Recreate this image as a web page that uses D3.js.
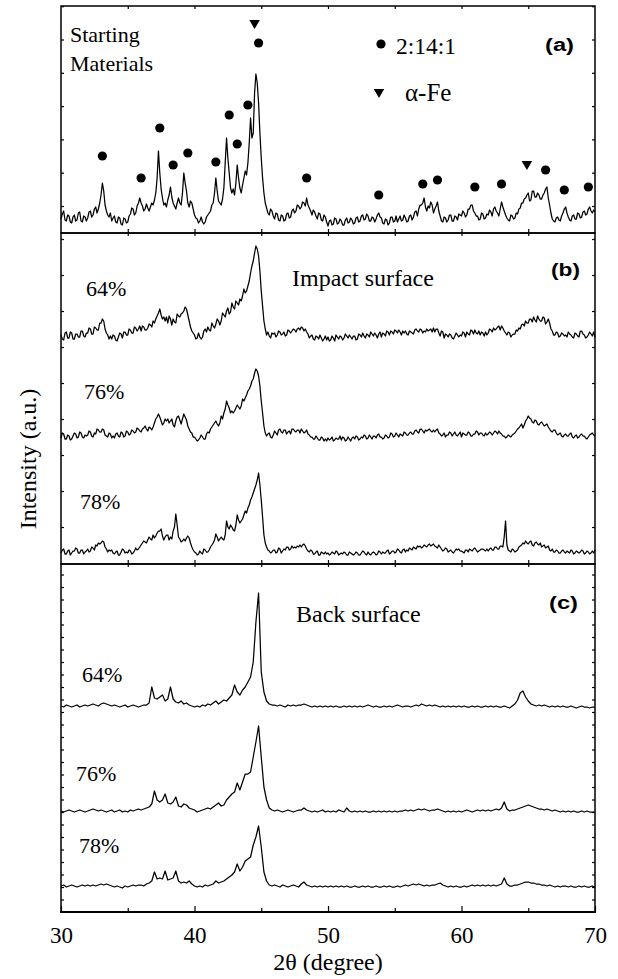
<!DOCTYPE html>
<html>
<head>
<meta charset="utf-8">
<script src="https://cdn.jsdelivr.net/npm/d3@7/dist/d3.min.js"></script>
<style>
    body { margin: 0; background: #fff; }
    .domain { display: none; }
    .tick line { stroke: #000; stroke-width: 1.2; }
    .frame { fill: none; stroke: #000; stroke-width: 1.5; }
    .trace { fill: none; stroke: #000; stroke-width: 1.25; stroke-linejoin: round; }
</style>
</head>
<body>
<div id="chart"></div>
<script>

// scans in (a) and (b) are read every 0.1 deg, the smoother ones in (c) every 0.2 deg
var twoThetaFine = d3.range(401).map(function (i) { return 30 + i * 0.1; });
var twoThetaCoarse = d3.range(201).map(function (i) { return 30 + i * 0.2; });

// (a) starting materials, one row = 2 degrees
var startMat = [
    14,19,22,13,12,18,17,11,10,16,18,12,13,20,21,12,11,17,16,12,
    15,21,22,16,18,24,26,20,24,30,38,50,42,28,22,18,16,20,12,15,
    17,11,10,16,15,9,8,15,14,10,11,17,19,25,24,18,20,27,30,35,
    30,27,22,24,29,25,22,26,30,28,33,40,55,82,60,44,35,28,30,26,
    33,38,46,36,30,27,24,30,35,30,28,40,60,50,42,30,26,32,30,24,
    18,15,14,10,12,16,11,9,11,16,18,20,22,28,30,40,55,42,32,30,
    28,34,45,70,95,75,60,45,40,44,38,50,68,55,45,40,48,55,62,58,
    70,90,115,95,100,140,159,150,130,100,75,55,40,30,25,20,18,24,22,17,
    14,20,19,13,12,18,17,12,13,19,20,15,16,22,24,20,22,28,27,24,
    26,31,30,27,35,28,25,22,18,23,21,17,14,20,19,13,12,18,16,11,
    7,12,13,8,9,15,14,9,10,14,12,8,8,13,15,10,11,15,13,9,
    10,15,16,11,12,17,18,13,14,19,17,12,12,16,15,11,14,18,20,16,
    15,10,9,14,13,8,10,16,16,11,12,17,11,14,17,12,13,18,15,11,
    12,17,18,13,16,21,22,17,24,28,28,30,35,26,22,27,25,31,28,20,
    24,27,31,22,17,12,11,16,15,11,13,18,18,12,12,17,16,13,19,18,
    17,22,20,16,18,24,24,28,28,22,20,17,17,13,14,20,19,14,15,19,
    18,23,21,17,24,26,22,20,17,24,31,26,22,18,15,13,12,18,17,14,
    15,20,19,24,25,30,30,34,35,38,40,32,33,42,42,36,36,40,38,34,
    34,38,40,44,46,35,28,20,14,12,11,15,16,13,12,17,20,24,26,20,
    16,13,12,17,18,14,14,20,19,15,16,21,22,18,19,24,26,22,20,23,
    21];

// (b) impact surface, 64 / 76 / 78 %
var impact64 = [
    6,2,1,8,9,3,3,9,8,2,2,7,7,4,4,10,10,5,4,8,
    8,13,12,7,7,14,13,11,11,18,18,22,20,12,8,6,2,5,2,6,
    5,1,0,4,8,7,3,9,9,6,6,12,11,8,8,14,13,10,12,15,
    10,15,14,11,11,13,17,16,14,20,18,22,25,28,32,26,22,24,20,24,
    18,25,22,16,22,19,18,27,25,24,27,28,30,34,32,26,20,14,10,8,
    6,2,3,8,4,2,4,10,12,9,14,11,10,18,15,13,17,22,20,16,
    20,28,26,24,30,33,27,29,38,34,32,40,38,36,42,40,45,52,48,50,
    55,60,68,75,80,88,95,92,85,70,50,35,20,12,6,9,5,3,8,7,
    8,4,6,10,9,6,7,9,5,6,11,10,8,10,12,11,9,12,13,11,
    14,13,10,12,9,7,3,5,6,2,1,5,4,2,6,3,0,2,5,1,
    4,0,1,5,3,0,6,4,2,5,4,1,3,7,5,3,6,4,2,5,
    5,1,2,7,6,4,8,5,3,7,6,4,9,7,5,8,6,3,7,9,
    4,8,7,5,10,9,6,10,9,7,11,10,8,11,9,6,10,8,10,7,
    6,10,9,8,7,11,12,10,9,12,11,8,10,9,12,10,11,12,9,13,
    9,12,12,8,5,10,9,3,7,6,4,7,6,3,2,5,8,6,4,6,
    5,9,8,4,9,7,6,11,10,7,11,8,7,10,6,9,8,5,9,6,
    8,12,11,9,13,11,12,14,15,11,15,13,10,8,6,9,8,4,6,7,
    7,11,10,13,12,16,17,15,20,18,18,22,22,19,24,21,19,25,22,20,
    20,24,23,17,19,22,18,12,10,6,6,9,8,4,5,8,7,5,6,4,
    9,7,6,4,3,8,7,5,4,10,10,7,6,3,4,6,9,7,5,9,
    4];
var impact76 = [
    3,8,7,2,2,6,5,1,2,5,8,7,3,4,9,8,4,3,6,5,
    6,10,9,5,4,8,7,12,11,9,9,12,11,6,5,4,8,7,3,5,
    3,7,8,5,4,9,8,4,5,10,9,6,7,11,10,8,9,13,12,10,
    9,12,13,15,12,10,14,13,11,14,18,22,24,27,24,20,16,18,22,20,
    22,18,20,22,16,14,20,24,25,21,17,22,27,24,21,15,12,9,8,4,
    4,2,0,1,3,6,4,2,2,7,9,8,12,14,16,18,20,17,15,18,
    25,22,28,32,40,36,33,28,30,28,30,33,36,34,32,35,42,40,43,46,
    50,52,55,60,62,68,72,70,65,55,40,28,15,8,5,7,8,4,3,6,
    10,8,6,11,12,9,8,11,11,7,9,10,7,12,12,10,9,11,11,8,
    12,10,8,9,11,7,6,4,4,2,2,5,3,1,1,4,3,0,2,0,
    3,1,2,4,0,1,3,2,2,5,1,4,3,0,1,4,2,0,3,4,
    2,5,4,1,2,4,3,6,5,2,3,6,4,2,5,5,3,6,7,4,
    4,2,3,6,5,3,4,8,7,4,5,8,6,4,7,6,5,9,8,6,
    6,8,9,7,7,10,11,9,8,12,12,10,8,11,10,11,12,10,9,11,
    9,11,12,8,7,5,6,8,4,6,6,9,8,5,7,9,6,5,7,9,
    4,8,7,6,6,9,8,5,5,7,7,10,9,6,8,8,6,5,8,6,
    7,9,8,6,8,10,9,7,10,8,7,5,5,3,4,6,5,4,6,7,
    8,10,12,13,15,17,13,16,20,22,25,23,22,19,18,21,20,17,16,18,
    19,17,15,16,17,14,12,10,9,11,11,8,6,7,8,5,4,6,7,5,
    5,7,8,4,3,5,6,3,4,6,7,5,5,3,2,4,6,7,8,6,
    5];
var impact78 = [
    2,5,6,1,1,4,5,0,2,4,4,7,6,2,2,5,5,1,3,4,
    6,3,4,8,7,5,10,9,12,11,12,14,13,8,6,3,5,4,5,2,
    1,3,4,0,0,3,6,5,2,3,2,5,4,1,2,4,7,5,6,8,
    10,12,14,13,12,15,18,16,15,20,17,19,22,24,24,26,19,15,18,20,
    20,15,18,16,24,28,41,30,18,16,13,14,16,14,17,19,17,12,8,5,
    3,2,0,1,4,2,1,6,5,3,3,5,8,10,12,15,21,18,14,16,
    18,16,15,20,34,28,26,30,28,25,24,30,40,35,32,34,36,40,44,42,
    47,50,55,58,62,66,70,75,82,70,55,38,20,12,8,5,4,2,3,5,
    5,2,3,7,6,2,4,6,5,8,8,5,6,9,7,8,7,9,8,10,
    8,10,11,9,6,4,3,5,4,1,1,3,4,0,0,3,2,1,3,1,
    2,0,1,3,2,1,4,3,0,1,2,1,3,2,0,0,3,2,1,0,
    1,3,2,0,0,2,4,3,1,0,3,1,0,2,3,2,0,1,4,3,
    1,3,2,2,4,5,1,2,4,4,2,3,6,5,3,2,5,6,3,5,
    4,7,6,5,8,7,6,9,8,9,7,8,10,9,8,10,11,9,10,11,
    9,8,7,10,8,6,4,5,7,6,3,4,5,3,2,4,6,5,6,4,
    4,3,2,5,5,3,6,5,4,6,7,5,3,4,5,6,6,5,4,6,
    4,6,7,5,5,8,8,6,6,9,9,8,18,34,10,5,4,3,6,5,
    3,4,5,8,9,10,12,11,14,12,11,13,14,10,9,12,13,11,10,12,
    8,9,10,7,8,9,5,4,6,3,3,5,4,2,2,4,5,3,2,4,
    3,2,5,4,1,2,4,3,2,3,5,4,1,2,4,3,1,2,4,2,
    5];

// (c) back surface, 64 / 76 / 78 %, one row = 4 degrees
var back64 = [
    1,0,2,1,0,1,2,0,1,2,            1,2,3,2,1,3,4,3,2,1,
    2,1,0,1,2,0,1,2,1,0,            1,2,2,4,20,9,8,10,12,6,
    8,20,8,5,4,6,3,4,2,1,           0,1,0,2,1,3,2,4,6,3,
    5,7,6,9,12,22,15,12,17,20,      25,30,45,85,114,35,15,6,3,2,
    2,1,2,1,0,2,1,2,1,2,            2,3,2,1,0,1,0,1,0,1,
    0,1,0,1,0,0,1,0,1,0,            1,0,1,0,1,2,1,0,1,0,
    0,1,0,1,0,1,2,1,0,1,            1,0,1,2,1,3,2,1,2,1,
    2,1,0,1,0,1,0,1,0,1,            0,1,0,0,1,0,1,0,0,1,
    0,1,0,1,0,0,1,0,-1,1,           3,7,14,16,10,6,3,2,1,2,
    1,2,1,0,1,0,1,0,1,0,            0,1,0,-1,0,1,0,0,-1,0,
    0];
var back76 = [
    1,0,1,2,1,0,1,2,1,0,            1,2,3,2,1,2,1,0,1,2,
    0,1,2,0,1,0,2,1,2,3,            2,3,4,5,8,21,12,10,12,18,
    9,8,10,15,6,5,8,7,4,3,          2,0,1,2,3,4,3,5,7,9,
    6,7,12,15,18,20,29,22,30,38,    38,40,55,70,86,55,25,12,4,2,
    1,2,1,0,1,2,1,0,1,2,            2,4,2,1,0,1,0,1,2,0,
    1,0,1,0,2,1,0,4,1,0,            1,0,1,0,1,0,0,1,0,1,
    0,1,0,1,0,1,0,1,1,2,            1,2,1,2,3,2,3,2,1,2,
    2,3,2,1,0,1,0,1,0,1,            0,1,2,1,0,1,2,1,2,1,
    2,1,2,3,2,4,10,3,1,2,           2,3,4,5,6,7,6,5,4,3,
    3,2,3,2,1,2,1,0,1,0,            1,0,1,0,0,1,0,1,0,0,
    0];
var back78 = [
    1,2,0,1,2,1,0,1,2,1,            2,1,2,1,2,3,2,3,2,1,
    0,1,0,-1,1,0,1,2,1,2,           2,1,3,4,6,15,8,9,8,16,
    7,8,9,16,6,4,5,4,6,3,           1,0,1,0,2,1,2,3,6,4,
    5,6,8,10,12,15,23,16,20,26,     28,30,42,50,61,40,15,6,2,1,
    2,1,0,2,1,0,1,2,1,0,            3,5,2,1,0,1,0,1,0,1,
    0,1,0,1,0,1,0,1,0,0,            1,0,0,1,0,1,0,0,1,0,
    0,1,0,1,0,0,1,0,1,2,            1,2,3,2,3,2,1,2,1,2,
    2,3,4,2,1,0,1,0,1,0,            0,1,0,1,2,1,2,1,2,1,
    2,1,2,1,2,3,9,3,1,1,            2,2,3,4,5,5,4,4,3,3,
    2,2,1,2,1,0,1,0,1,1,            0,1,0,0,1,0,1,0,0,1,
    0];

var sampleLabels = ["64%", "76%", "78%"];
var impactOffsets = [223, 123, 9];
var backOffsets = [205, 100, 25];

// phase markers in (a)
var phase2141Pos = [33.1, 36.0, 37.4, 38.4, 39.5, 41.6, 42.6, 43.2, 44.0, 44.8,
    48.4, 53.8, 57.1, 58.2, 61.0, 63.0, 66.3, 67.7, 69.5];
var phase2141H = [77, 55, 105, 68, 80, 71, 118, 89, 128, 190,
    55, 38, 49, 53, 46, 49, 63, 43, 46];
var alphaFePos = [44.5, 64.9];
var alphaFeH = [210, 69];

var xTicksMajor = [30, 40, 50, 60, 70];
var xTicksMinor = [35, 45, 55, 65];


var W = 618, H = 979;
var left = 61, right = 595;
var serif = '"Liberation Serif", "Times New Roman", "DejaVu Serif", serif';
var sans = '"Liberation Sans", Arial, "DejaVu Sans", sans-serif';

var svg = d3.select("#chart").append("svg")
    .attr("width", W)
    .attr("height", H);

var x = d3.scaleLinear().domain([30, 70]).range([left, right]);

// three stacked panels, each with its own intensity scale
var panels = [
    {top: 6, bottom: 233, max: 227, yticks: d3.range(27, 227, 33.3)},
    {top: 233, bottom: 564, max: 331, yticks: d3.range(37, 331, 36)},
    {top: 564, bottom: 912, max: 348, yticks: d3.range(12.5, 348, 12.5)}
];
panels.forEach(function (p) {
    p.y = d3.scaleLinear().domain([0, p.max]).range([p.bottom, p.top]);
});

function drawFrame(p, isLast) {
    // y ticks, inside, both sides
    svg.append("g")
        .attr("transform", "translate(" + left + ",0)")
        .call(d3.axisLeft(p.y).tickValues(p.yticks).tickSize(-3).tickFormat(""));
    svg.append("g")
        .attr("transform", "translate(" + right + ",0)")
        .call(d3.axisRight(p.y).tickValues(p.yticks).tickSize(-3).tickFormat(""));
    // x ticks top
    svg.append("g")
        .attr("transform", "translate(0," + p.top + ")")
        .call(d3.axisTop(x).tickValues(d3.range(35, 70, 5)).tickSize(-3).tickFormat(""));
    if (!isLast) {
        svg.append("g")
            .attr("transform", "translate(0," + p.bottom + ")")
            .call(d3.axisBottom(x).tickValues(d3.range(35, 70, 5)).tickSize(-4).tickFormat(""));
    }
    svg.append("rect")
        .attr("class", "frame")
        .attr("x", left)
        .attr("y", p.top)
        .attr("width", right - left)
        .attr("height", p.bottom - p.top);
}

panels.forEach(function (p, i) { drawFrame(p, i === 2); });

// main x axis
var xMajor = svg.append("g")
    .attr("transform", "translate(0," + panels[2].bottom + ")")
    .call(d3.axisBottom(x).tickValues(xTicksMajor).tickSize(-6).tickPadding(15).tickFormat(d3.format("d")));
xMajor.attr("font-family", null);
xMajor.selectAll("text")
    .style("font-family", serif)
    .style("font-size", "23px");
svg.append("g")
    .attr("transform", "translate(0," + panels[2].bottom + ")")
    .call(d3.axisBottom(x).tickValues(xTicksMinor).tickSize(-4).tickFormat(""));
svg.append("line")
    .attr("x1", left - 1).attr("x2", right + 1)
    .attr("y1", panels[2].bottom).attr("y2", panels[2].bottom)
    .attr("stroke", "#000").attr("stroke-width", 2.2);

function makeLine(grid, yScale, offset) {
    return d3.line()
        .x(function (d, i) { return x(grid[i]); })
        .y(function (d) { return yScale(d + offset); });
}

// traces
svg.append("path")
    .attr("class", "trace")
    .attr("d", makeLine(twoThetaFine, panels[0].y, 0)(startMat));

[impact64, impact76, impact78].forEach(function (s, i) {
    svg.append("path")
        .attr("class", "trace")
        .attr("d", makeLine(twoThetaFine, panels[1].y, impactOffsets[i])(s));
});
[back64, back76, back78].forEach(function (s, i) {
    svg.append("path")
        .attr("class", "trace")
        .attr("d", makeLine(twoThetaCoarse, panels[2].y, backOffsets[i])(s));
});

// phase markers
var yA = panels[0].y;
svg.selectAll(".dot")
    .data(d3.zip(phase2141Pos, phase2141H))
    .enter().append("circle")
    .attr("class", "dot")
    .attr("r", 4.6)
    .attr("cx", function (d) { return x(d[0]); })
    .attr("cy", function (d) { return yA(d[1]); });

var tri = d3.symbol().type(d3.symbolTriangle).size(48);
svg.selectAll(".tri")
    .data(d3.zip(alphaFePos, alphaFeH))
    .enter().append("path")
    .attr("class", "tri")
    .attr("d", tri)
    .attr("transform", function (d) {
        return "translate(" + x(d[0]) + "," + yA(d[1]) + ") rotate(180)";
    });

function addText(tx, ty, size, str, family) {
    return svg.append("text")
        .attr("x", tx).attr("y", ty)
        .style("font-family", family || serif)
        .style("font-size", size + "px")
        .text(str);
}

// legend
svg.append("circle").attr("cx", 381).attr("cy", 44).attr("r", 4.6);
addText(396, 54, 23.5, "2:14:1");
svg.append("path").attr("d", tri).attr("transform", "translate(379,92) rotate(180)");
addText(405, 101, 25, "\u03b1-Fe");

// annotations
addText(70, 42, 22, "Starting");
addText(70, 71, 22, "Materials");
addText(292, 286, 24, "Impact surface");
addText(296, 622, 24, "Back surface");

// panel tags are printed a bit wider than the font's own width
var panelTags = [["(a)", 545, 51], ["(b)", 551, 276], ["(c)", 549, 609]];
panelTags.forEach(function (t) {
    addText(t[1], t[2], 18, t[0], sans)
        .attr("textLength", 29)
        .attr("lengthAdjust", "spacingAndGlyphs")
        .style("font-weight", "bold");
});

var impactLabelPos = [[86, 296], [84, 399], [80, 509]];
var backLabelPos = [[82, 682], [76, 781], [79, 853]];
sampleLabels.forEach(function (s, i) {
    addText(impactLabelPos[i][0], impactLabelPos[i][1], 22, s);
    addText(backLabelPos[i][0], backLabelPos[i][1], 22, s);
});

// axis titles
addText((left + right) / 2, 970, 24, "2\u03b8 (degree)")
    .attr("text-anchor", "middle");
addText(0, 0, 24, "Intensity (a.u.)")
    .attr("transform", "translate(36," + (panels[0].top + panels[2].bottom) / 2 + ") rotate(-90)")
    .attr("text-anchor", "middle");

</script>
</body>
</html>
